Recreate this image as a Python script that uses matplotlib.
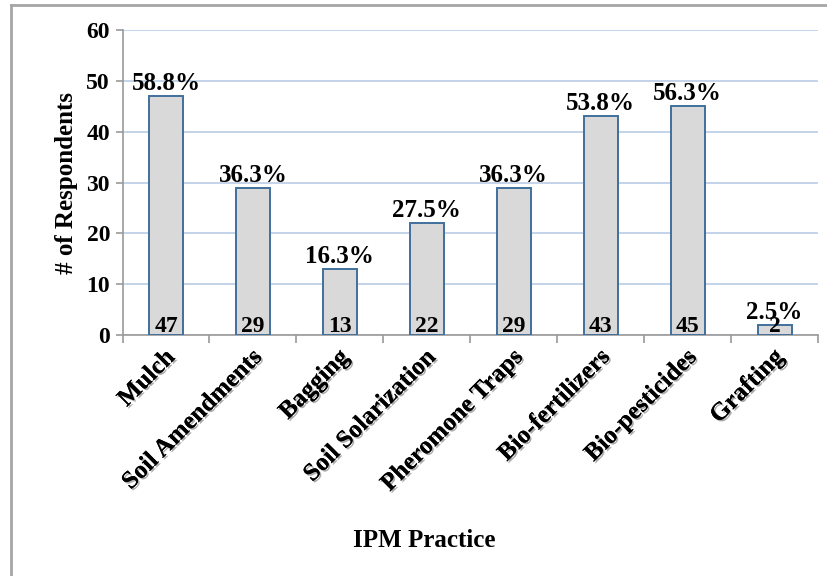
import matplotlib
matplotlib.use('Agg')
import matplotlib.pyplot as plt
from matplotlib.lines import Line2D
import matplotlib.patheffects as pe

# =============================================================================
# DATA
# =============================================================================

practices = ['Mulch', 'Soil Amendments', 'Bagging', 'Soil Solarization',
             'Pheromone Traps', 'Bio-fertilizers', 'Bio-pesticides', 'Grafting']
respondents = [47, 29, 13, 22, 29, 43, 45, 2]
pct_labels = ['58.8%', '36.3%', '16.3%', '27.5%', '36.3%', '53.8%', '56.3%', '2.5%']
y_ticks = [0, 10, 20, 30, 40, 50, 60]

# =============================================================================
# PLOT
# =============================================================================

plt.rcParams['font.family'] = ['Liberation Serif', 'DejaVu Serif']
plt.rcParams['font.weight'] = 'bold'

fig = plt.figure(figsize=(8.28, 5.76), dpi=100)
ax = fig.add_axes([0.148, 0.418, 0.840, 0.530])

x = list(range(len(practices)))
ax.bar(x, respondents, width=0.39, color='#d9d9d9',
       edgecolor='#41709c', linewidth=1.4, zorder=3)

for xi, val, pct in zip(x, respondents, pct_labels):
    ax.text(xi, val + 0.2, pct, ha='center', va='bottom',
            fontsize=18, fontweight='bold', zorder=4)
    ax.text(xi, -0.3, str(val), ha='center', va='bottom',
            fontsize=17, fontweight='bold', zorder=4)

ax.set_xlim(-0.5, len(practices) - 0.5)
ax.set_ylim(0, 60)
ax.set_yticks(y_ticks)
ax.set_yticklabels([str(t) for t in y_ticks], fontsize=17, fontweight='bold')
ax.yaxis.grid(True, color='#b9cde5', linewidth=1.2, zorder=0)
ax.set_axisbelow(True)

# category boundary ticks on x-axis
ax.set_xticks([i - 0.5 for i in range(len(practices) + 1)])
ax.set_xticklabels([])
ax.tick_params(axis='x', length=6, color='#9a9a9a', width=1.2)
ax.tick_params(axis='y', length=5, color='#9a9a9a', width=1.2, pad=4)

shadow = [pe.withSimplePatchShadow(offset=(1.2, -1.2), shadow_rgbFace='#888888', alpha=0.7),
          pe.Normal()]
for xi, name in zip(x, practices):
    ax.text(xi + 0.06, -3.6, name, rotation=45, ha='right', va='center',
            fontsize=18, fontweight='bold', rotation_mode='anchor',
            path_effects=shadow)

for side in ['top', 'right']:
    ax.spines[side].set_visible(False)
for side in ['left', 'bottom']:
    ax.spines[side].set_color('#9a9a9a')
    ax.spines[side].set_linewidth(1.2)

ax.set_ylabel('# of Respondents', fontsize=18, fontweight='bold', labelpad=6)
fig.text(0.512, 0.062, 'IPM Practice', ha='center', va='center',
         fontsize=18, fontweight='bold')

# outer chart frame (only top and left edges visible)
fig.add_artist(Line2D([0.0133, 0.0133], [0.0, 0.991], transform=fig.transFigure,
                      color='#a6a6a6', linewidth=2))
fig.add_artist(Line2D([0.0133, 1.0], [0.991, 0.991], transform=fig.transFigure,
                      color='#a6a6a6', linewidth=2))

fig.savefig('out.png', dpi=100)
plt.close(fig)
